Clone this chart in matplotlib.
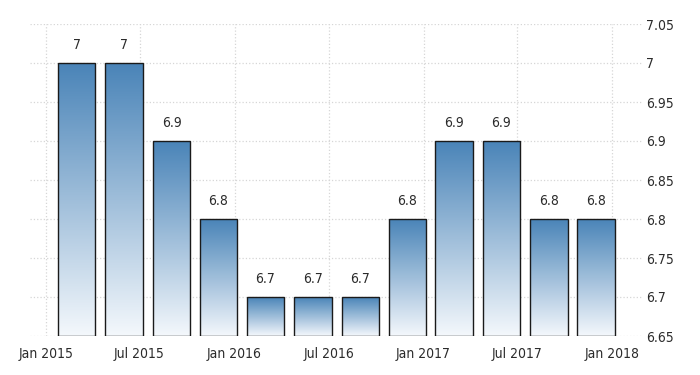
import datetime as dt

import numpy as np
import matplotlib
matplotlib.use("Agg")
import matplotlib.pyplot as plt
import matplotlib.dates as mdates
from matplotlib import font_manager
from matplotlib.colors import LinearSegmentedColormap
from matplotlib.ticker import FuncFormatter

# data: one bar per quarter, plotted at the last month of the quarter
quarters = ["2015-03", "2015-06", "2015-09", "2015-12",
            "2016-03", "2016-06", "2016-09", "2016-12",
            "2017-03", "2017-06", "2017-09", "2017-12"]
values = [7.0, 7.0, 6.9, 6.8, 6.7, 6.7, 6.7, 6.8, 6.9, 6.9, 6.8, 6.8]
value_labels = ["7", "7", "6.9", "6.8", "6.7", "6.7", "6.7", "6.8", "6.9", "6.9", "6.8", "6.8"]
y_ticks = [6.65, 6.7, 6.75, 6.8, 6.85, 6.9, 6.95, 7.0, 7.05]

# pick a narrow face if one is installed
names = {f.name for f in font_manager.fontManager.ttflist}
condensed = [f for f in font_manager.fontManager.ttflist
             if f.name == "DejaVu Sans" and f.stretch == "condensed"]
if "Liberation Sans Narrow" in names:
    plt.rcParams["font.family"] = ["Liberation Sans Narrow", "DejaVu Sans"]
elif condensed:
    plt.rcParams["font.family"] = ["DejaVu Sans"]
    plt.rcParams["font.stretch"] = "condensed"
else:
    plt.rcParams["font.family"] = ["Roboto", "DejaVu Sans"]

YMIN, YMAX = 6.65, 7.05
TEXT = "#2b2b2b"
grad = LinearSegmentedColormap.from_list("bar", ["#f4f8fc", "#4a84b8"])

dates = [dt.datetime.strptime(q, "%Y-%m") for q in quarters]
x = mdates.date2num(dates)
width = 72  # days

fig = plt.figure(figsize=(7, 3.75), dpi=100)
ax = fig.add_axes([0.043, 0.104, 0.874, 0.832])

bars = ax.bar(x, np.array(values) - YMIN, bottom=YMIN, width=width,
              facecolor="none", edgecolor="#1a1a1a", linewidth=1.0, zorder=3)

# gradient fill clipped to each bar
g = np.linspace(0, 1, 256).reshape(-1, 1)
for b in bars:
    x0, y0 = b.get_x(), b.get_y()
    im = ax.imshow(g, cmap=grad, aspect="auto", origin="lower",
                   extent=[x0, x0 + b.get_width(), y0, y0 + b.get_height()],
                   zorder=2)
    im.set_clip_path(b)

for xi, v, lab in zip(x, values, value_labels):
    ax.annotate(lab, (xi, v), xytext=(0, 8), textcoords="offset points",
                ha="center", va="bottom", fontsize=10, color=TEXT)

ax.set_xlim(mdates.date2num(dt.datetime(2014, 12, 1)),
            mdates.date2num(dt.datetime(2018, 2, 28)))
ax.set_ylim(YMIN, YMAX)

ax.xaxis.set_major_locator(mdates.MonthLocator(bymonth=[1, 7]))
ax.xaxis.set_major_formatter(mdates.DateFormatter("%b %Y"))
ax.set_yticks(y_ticks)
ax.yaxis.set_major_formatter(FuncFormatter(lambda v, p: f"{v:g}"))
ax.yaxis.tick_right()

ax.tick_params(axis="both", length=0, labelsize=10, colors=TEXT)
ax.tick_params(axis="x", pad=8)
ax.tick_params(axis="y", pad=3)

ax.grid(True, color="#d6d6d6", linestyle=":", linewidth=0.9, zorder=0)
ax.set_axisbelow(True)
for s in ax.spines.values():
    s.set_visible(False)

fig.savefig("out.png", dpi=100)
